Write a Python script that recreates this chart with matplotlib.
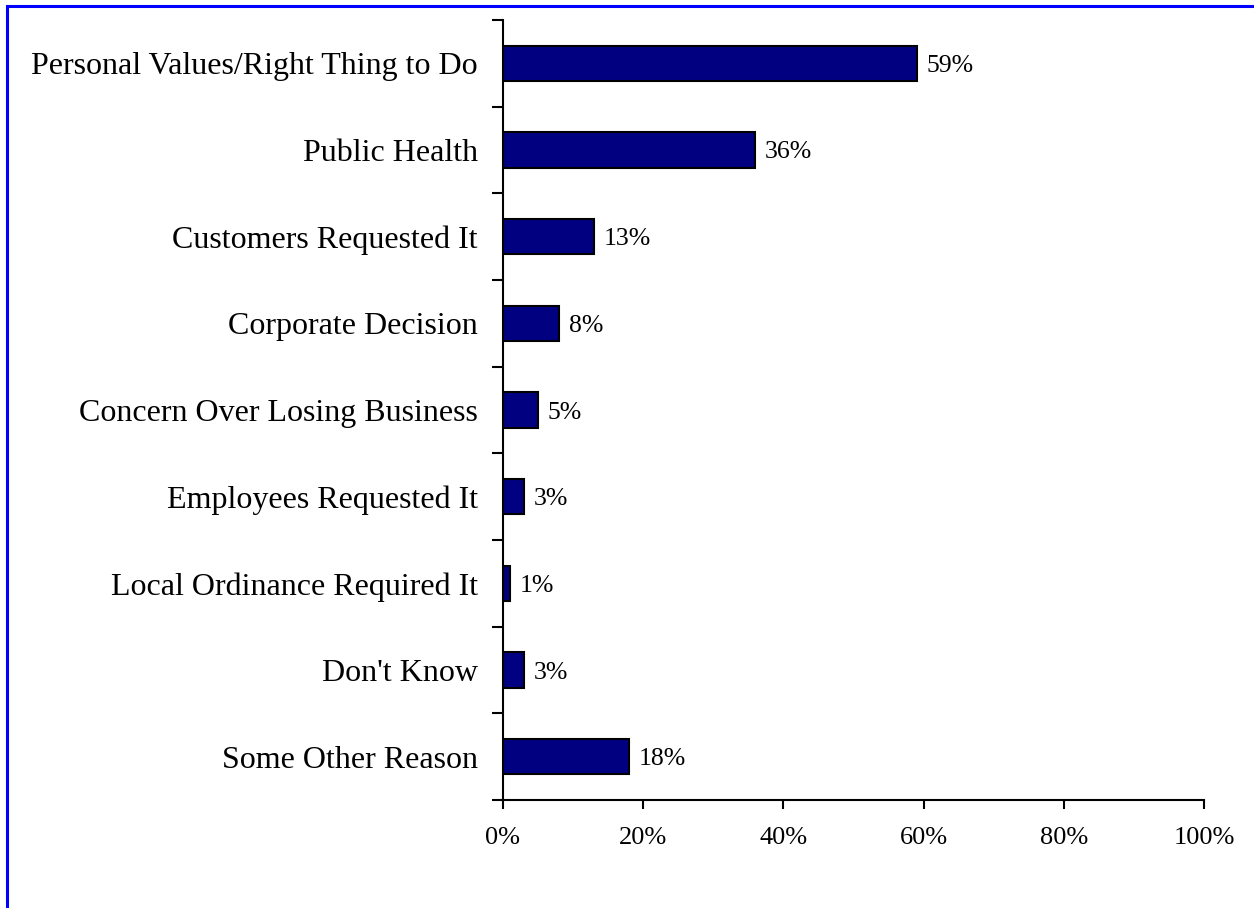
import matplotlib
matplotlib.use("Agg")
import matplotlib.pyplot as plt
from matplotlib.patches import Rectangle
from matplotlib.ticker import FixedLocator

categories = [
    "Personal Values/Right Thing to Do",
    "Public Health",
    "Customers Requested It",
    "Corporate Decision",
    "Concern Over Losing Business",
    "Employees Requested It",
    "Local Ordinance Required It",
    "Don't Know",
    "Some Other Reason",
]
values = [59, 36, 13, 8, 5, 3, 1, 3, 18]
x_ticks = [0, 20, 40, 60, 80, 100]
x_tick_labels = ["0%", "20%", "40%", "60%", "80%", "100%"]

plt.rcParams["font.family"] = ["Liberation Serif", "DejaVu Serif"]

fig = plt.figure(figsize=(12.54, 9.08), dpi=100)
ax = fig.add_axes([0.4011, 0.1189, 0.9601 - 0.4011, 0.978 - 0.1189])

n = len(categories)
ypos = list(range(n))
ax.barh(ypos, values, height=0.41, color="#000080", edgecolor="black", linewidth=1.5)

for y, v in zip(ypos, values):
    ax.annotate(f"{v}%", xy=(v, y), xytext=(7, 0), textcoords="offset points",
                ha="left", va="center_baseline", fontsize=18.5, color="black")

ax.set_xlim(0, 100)
ax.set_ylim(n - 0.5, -0.5)
ax.set_xticks(x_ticks)
ax.set_xticklabels(x_tick_labels, fontsize=19)
ax.set_yticks(ypos)
ax.set_yticklabels(categories, fontsize=23)
ax.yaxis.set_minor_locator(FixedLocator([i - 0.5 for i in range(n + 1)]))
ax.tick_params(axis="y", which="major", length=0, pad=18)
ax.tick_params(axis="y", which="minor", length=8, width=1.5, direction="out")
ax.tick_params(axis="x", which="major", length=6.5, width=1.5, direction="out", pad=13)

for s in ["top", "right"]:
    ax.spines[s].set_visible(False)
for s in ["left", "bottom"]:
    ax.spines[s].set_linewidth(1.5)

# blue frame around the chart area
fig.patches.append(Rectangle((0.0055, -0.2), 1.2, 1.1935, transform=fig.transFigure,
                             fill=False, edgecolor="#0000ff", linewidth=2.2, clip_on=False))

fig.savefig("out.png", dpi=100)
